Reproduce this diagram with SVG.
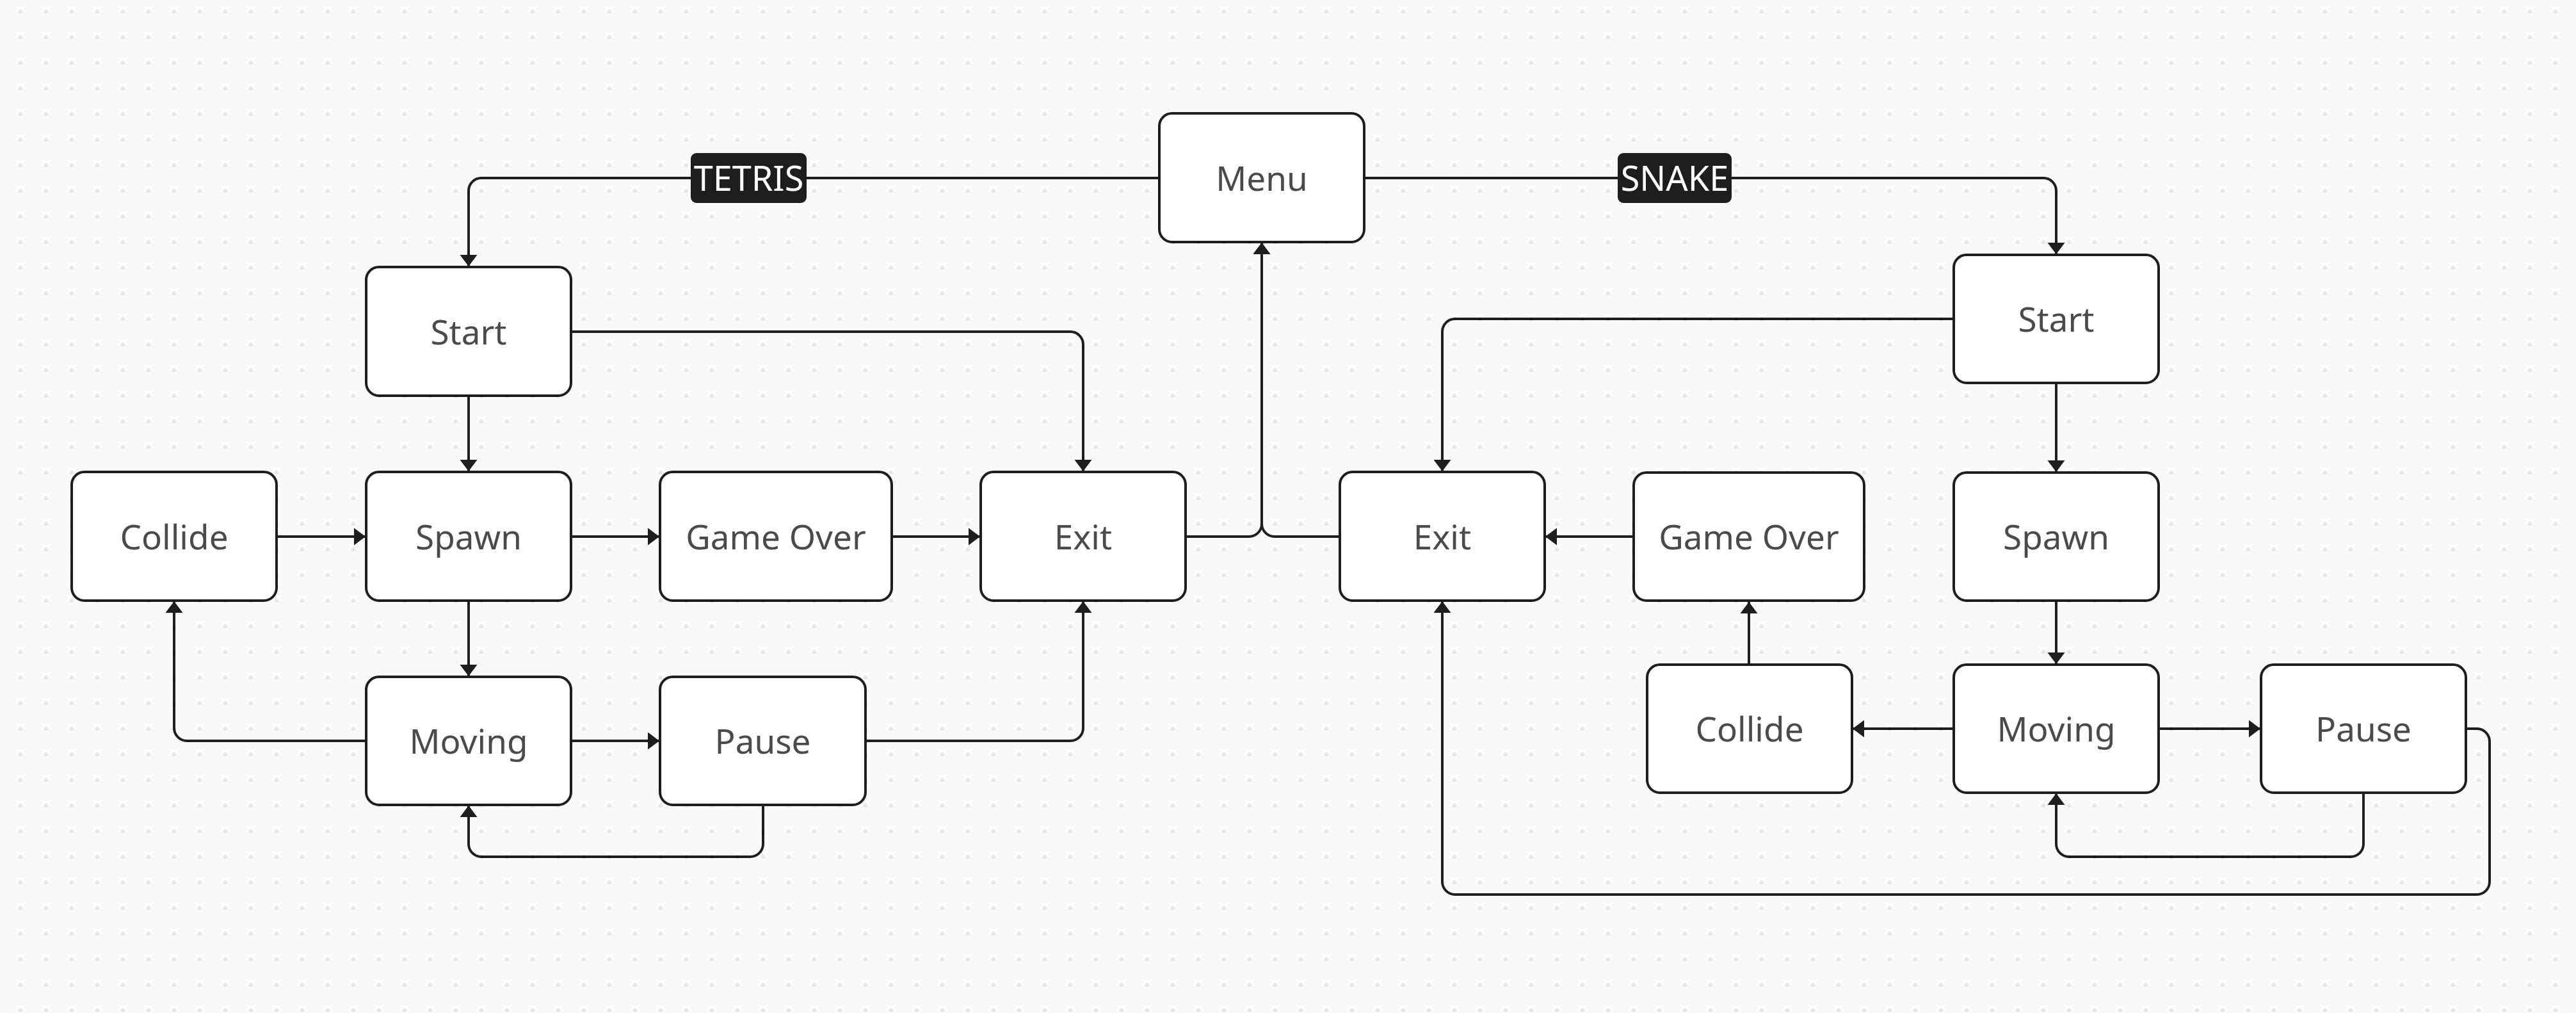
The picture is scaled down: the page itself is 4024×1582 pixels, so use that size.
<svg xmlns="http://www.w3.org/2000/svg" width="4024" height="1582" viewBox="0 0 4024 1582">
<defs>
<pattern id="dots" x="0" y="0" width="40" height="40" patternUnits="userSpaceOnUse">
<circle cx="32" cy="18" r="3" fill="#e6e6ea"/>
</pattern>
<marker id="arr" markerUnits="userSpaceOnUse" markerWidth="18" markerHeight="27" refX="18" refY="13.5" orient="auto" viewBox="0 0 18 27">
<path d="M0,0 L18,13.5 L0,27 Z" fill="#1e1e1e"/>
</marker>
<style>
.node rect{fill:#ffffff;stroke:#1e1e1e;stroke-width:4}
.node text{font-family:"Noto Sans","Open Sans","DejaVu Sans",sans-serif;font-size:53px;fill:#4b4b4b;text-anchor:middle}
.edges path{fill:none;stroke:#1e1e1e;stroke-width:4}
.lbl rect{fill:#1e1e1e}
.lbl text{font-family:"Noto Sans","Open Sans","DejaVu Sans",sans-serif;font-size:54px;fill:#ffffff;text-anchor:middle}
</style>
</defs>
<rect width="4024" height="1582" fill="#f9f9fb"/>
<rect width="4024" height="1582" fill="url(#dots)"/>

<g class="edges" id="connectors">
<path d="M1811,278 H752 A20,20 0 0 0 732,298 V416" marker-end="url(#arr)"/>
<path d="M2131,278 H3192 A20,20 0 0 1 3212,298 V397" marker-end="url(#arr)"/>
<path d="M892,518 H1672 A20,20 0 0 1 1692,538 V736" marker-end="url(#arr)"/>
<path d="M732,618 V736" marker-end="url(#arr)"/>
<path d="M432,838 H571" marker-end="url(#arr)"/>
<path d="M892,838 H1030" marker-end="url(#arr)"/>
<path d="M1393,838 H1531" marker-end="url(#arr)"/>
<path d="M732,938 V1056" marker-end="url(#arr)"/>
<path d="M572,1157 H292 A20,20 0 0 1 272,1137 V939" marker-end="url(#arr)"/>
<path d="M892,1157 H1030" marker-end="url(#arr)"/>
<path d="M1352,1157 H1672 A20,20 0 0 0 1692,1137 V939" marker-end="url(#arr)"/>
<path d="M1192,1257 V1318 A20,20 0 0 1 1172,1338 H752 A20,20 0 0 1 732,1318 V1258" marker-end="url(#arr)"/>
<path d="M1852,838 H1951 A20,20 0 0 0 1971,818 V379" marker-end="url(#arr)"/>
<path d="M2093,838 H1991 A20,20 0 0 1 1971,818 V379" marker-end="url(#arr)"/>
<path d="M3052,498 H2273 A20,20 0 0 0 2253,518 V736" marker-end="url(#arr)"/>
<path d="M3212,598 V737" marker-end="url(#arr)"/>
<path d="M2552,838 H2414" marker-end="url(#arr)"/>
<path d="M3212,938 V1037" marker-end="url(#arr)"/>
<path d="M2732,1038 V940" marker-end="url(#arr)"/>
<path d="M3052,1138 H2894" marker-end="url(#arr)"/>
<path d="M3372,1138 H3531" marker-end="url(#arr)"/>
<path d="M3692,1238 V1318 A20,20 0 0 1 3672,1338 H3232 A20,20 0 0 1 3212,1318 V1239" marker-end="url(#arr)"/>
<path d="M3852,1138 H3869 A20,20 0 0 1 3889,1158 V1377 A20,20 0 0 1 3869,1397 H2273 A20,20 0 0 1 2253,1377 V939" marker-end="url(#arr)"/>
</g>

<g class="lbl" id="label-tetris">
<rect x="1079" y="239" width="181" height="78" rx="9"/>
<text x="1169.5" y="298">TETRIS</text>
</g>
<g class="lbl" id="label-snake">
<rect x="2527" y="239" width="178" height="78" rx="9"/>
<text x="2616" y="298">SNAKE</text>
</g>

<g class="node" id="menu"><rect x="1811" y="177" width="320" height="201" rx="20"/><text x="1971" y="298">Menu</text></g>

<g class="node" id="t-start"><rect x="572" y="417" width="320" height="201" rx="20"/><text x="732" y="538">Start</text></g>
<g class="node" id="t-collide"><rect x="112" y="737" width="320" height="201" rx="20"/><text x="272" y="858">Collide</text></g>
<g class="node" id="t-spawn"><rect x="572" y="737" width="320" height="201" rx="20"/><text x="732" y="858">Spawn</text></g>
<g class="node" id="t-gameover"><rect x="1031" y="737" width="362" height="201" rx="20"/><text x="1212" y="858">Game Over</text></g>
<g class="node" id="t-exit"><rect x="1532" y="737" width="320" height="201" rx="20"/><text x="1692" y="858">Exit</text></g>
<g class="node" id="t-moving"><rect x="572" y="1057" width="320" height="200" rx="20"/><text x="732" y="1177">Moving</text></g>
<g class="node" id="t-pause"><rect x="1031" y="1057" width="321" height="200" rx="20"/><text x="1191.5" y="1177">Pause</text></g>

<g class="node" id="s-start"><rect x="3052" y="398" width="320" height="200" rx="20"/><text x="3212" y="518">Start</text></g>
<g class="node" id="s-exit"><rect x="2093" y="737" width="320" height="201" rx="20"/><text x="2253" y="858">Exit</text></g>
<g class="node" id="s-gameover"><rect x="2552" y="738" width="360" height="200" rx="20"/><text x="2732" y="858">Game Over</text></g>
<g class="node" id="s-spawn"><rect x="3052" y="738" width="320" height="200" rx="20"/><text x="3212" y="858">Spawn</text></g>
<g class="node" id="s-collide"><rect x="2573" y="1038" width="320" height="200" rx="20"/><text x="2733" y="1158">Collide</text></g>
<g class="node" id="s-moving"><rect x="3052" y="1038" width="320" height="200" rx="20"/><text x="3212" y="1158">Moving</text></g>
<g class="node" id="s-pause"><rect x="3532" y="1038" width="320" height="200" rx="20"/><text x="3692" y="1158">Pause</text></g>
</svg>
